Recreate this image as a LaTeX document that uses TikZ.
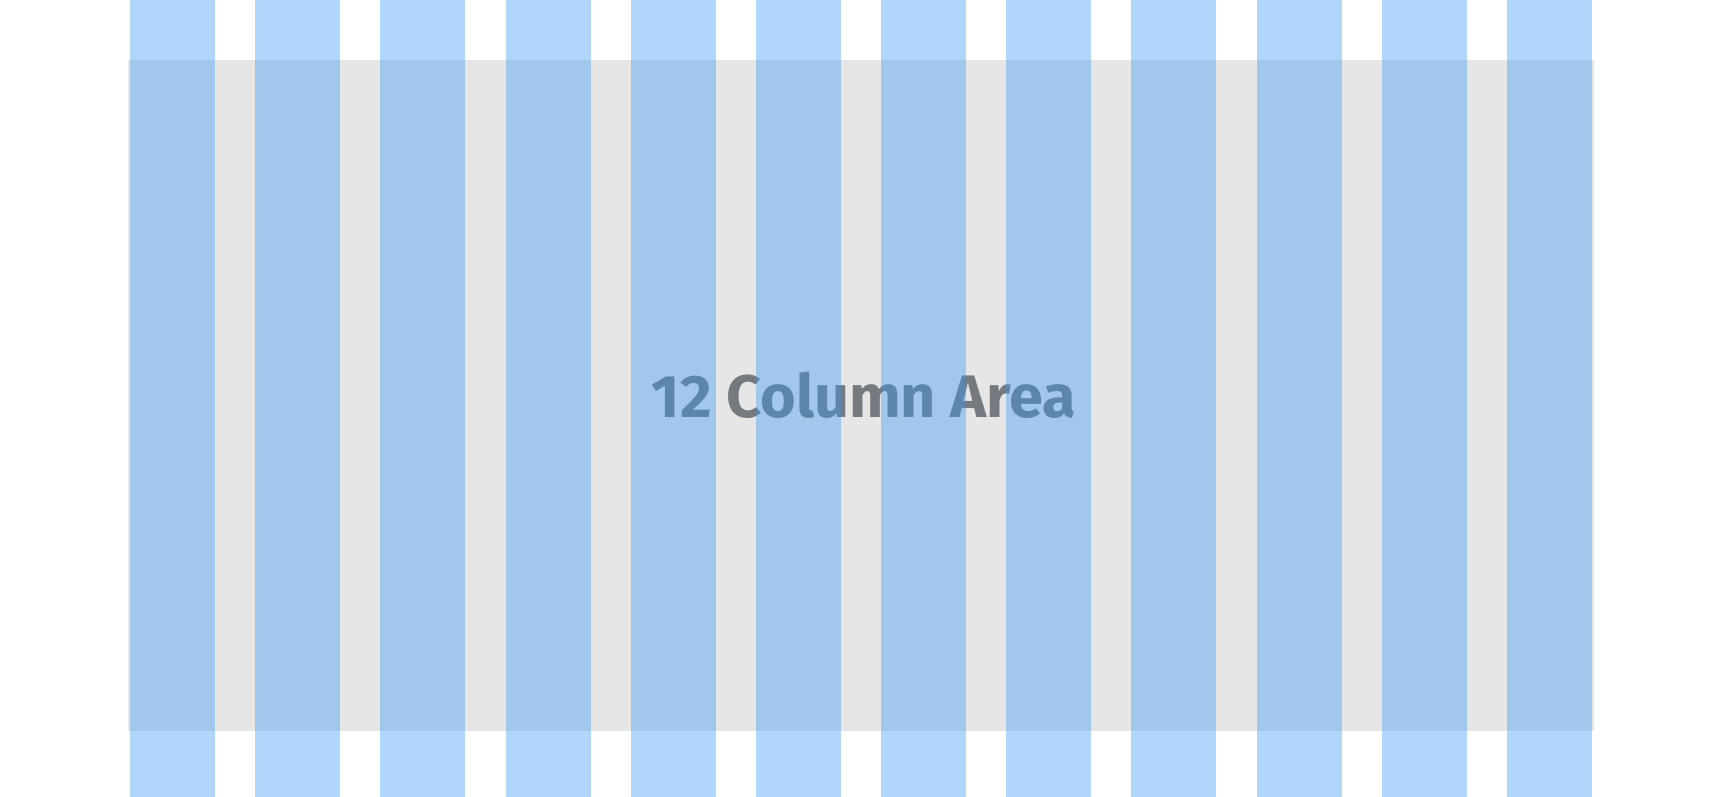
\documentclass[tikz,border=0pt]{standalone}
\usepackage{fontspec}
\setmainfont{Fira Sans}
\definecolor{areagray}{RGB}{230,230,230}
\definecolor{colblue}{RGB}{58,153,245}
\definecolor{labelgray}{RGB}{116,122,128}
\tikzset{
  area/.style={fill=areagray},
  column/.style={fill=colblue, fill opacity=0.4},
  arealabel/.style={text=labelgray, font=\fontsize{60}{64}\selectfont\bfseries, inner sep=0pt, anchor=base}
}
\begin{document}
\begin{tikzpicture}[x=1pt,y=-1pt]
\useasboundingbox (0,0) rectangle (1720,797);
\fill[white] (0,0) rectangle (1720,797);
\fill[area] (128,60) rectangle (1594,731);
\node[arealabel, xscale=1.02] (label) at (864,417) {12 Column Area};
\foreach \i in {0,...,11} {
  \fill[column] ({130+\i*125.18},0) rectangle ({215+\i*125.18},797);
}
\end{tikzpicture}
\end{document}
